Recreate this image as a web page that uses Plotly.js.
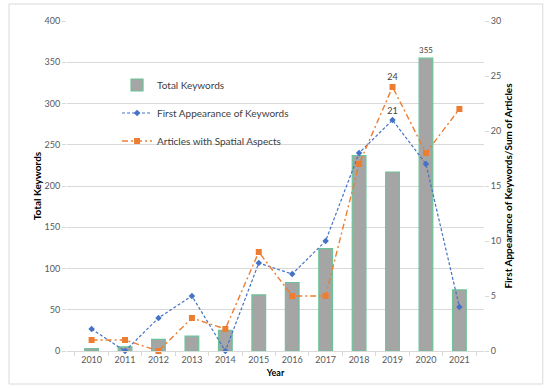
<!DOCTYPE html>
<html>
<head>
<meta charset="utf-8">
<script src="https://cdn.plot.ly/plotly-3.0.1.min.js"></script>
<style>html,body{margin:0;padding:0;background:#fff;}#chart{width:550px;height:388px;}</style>
</head>
<body>
<div id="chart"></div>
<script>
const years = ["2010","2011","2012","2013","2014","2015","2016","2017","2018","2019","2020","2021"];
const totalKeywords = [3, 5, 14, 18, 25, 68, 83, 124, 237, 217, 355, 74];
const firstAppearance = [2, 0, 3, 5, 0, 8, 7, 10, 18, 21, 17, 4];
const spatialArticles = [1, 1, 0, 3, 2, 9, 5, 5, 17, 24, 18, 22];

function peakLabels(arr) {
  const m = Math.max(...arr);
  return arr.map(v => v === m ? String(v) : "");
}

const FONT = "Lato, 'Open Sans', sans-serif";

const traces = [
  {
    type: "bar", x: years, y: totalKeywords, name: "Total Keywords",
    marker: {color: "#A5A5A5", line: {color: "#6CC49A", width: 1.2}},
    text: peakLabels(totalKeywords), textposition: "outside", cliponaxis: false,
    textfont: {size: 9, color: "#404040"},
    legendgroup: "a", hoverinfo: "x+y"
  },
  {
    type: "scatter", mode: "lines+markers+text", x: years, y: firstAppearance, yaxis: "y2",
    name: "First Appearance of Keywords",
    line: {color: "#4472C4", width: 1.2, dash: "3px,2px"},
    marker: {symbol: "diamond", size: 5, color: "#4472C4"},
    text: peakLabels(firstAppearance), textposition: "top center",
    textfont: {size: 9, color: "#404040"}, cliponaxis: false,
    legendgroup: "b"
  },
  {
    type: "scatter", mode: "lines+markers+text", x: years, y: spatialArticles, yaxis: "y2",
    name: "Articles with Spatial Aspects",
    line: {color: "#ED7D31", width: 1.4, dash: "6px,3px,2px,3px"},
    marker: {symbol: "square", size: 6, color: "#ED7D31"},
    text: peakLabels(spatialArticles), textposition: "top center",
    textfont: {size: 9, color: "#404040"}, cliponaxis: false,
    legendgroup: "c"
  }
];

const layout = {
  width: 550, height: 388,
  margin: {l: 67, r: 66, t: 21, b: 37},
  paper_bgcolor: "#fff", plot_bgcolor: "#fff",
  font: {family: FONT, size: 9, color: "#595959"},
  bargap: 0.59,
  showlegend: true,
  legend: {x: 0.12, y: 0.85, xanchor: "left", yanchor: "top", bgcolor: "rgba(0,0,0,0)",
           font: {size: 10, color: "#404040"}, tracegroupgap: 9, itemwidth: 30},
  xaxis: {
    type: "category", tickson: "boundaries", ticks: "outside", ticklen: 4, tickcolor: "#D9D9D9",
    showline: true, linecolor: "#D9D9D9", showgrid: false, tickfont: {size: 9, color: "#595959"},
    title: {text: "<b>Year</b>", font: {size: 9, color: "#000"}, standoff: 5}
  },
  yaxis: {
    range: [0, 400], dtick: 50, showgrid: true, gridcolor: "#D9D9D9", gridwidth: 1,
    zeroline: false, showline: false, ticks: "outside", ticklen: 4, tickcolor: "#D9D9D9",
    tickfont: {size: 9, color: "#595959"},
    title: {text: "<b>Total Keywords</b>", font: {size: 10, color: "#000"}, standoff: 1}
  },
  yaxis2: {
    overlaying: "y", side: "right", range: [0, 30], dtick: 5, showgrid: false, zeroline: false,
    showline: false, ticks: "outside", ticklen: 4, tickcolor: "#D9D9D9",
    tickfont: {size: 9, color: "#595959"},
    title: {text: "<b>First Appearance of Keywords/Sum of Articles</b>", font: {size: 10, color: "#000"}, standoff: 4}
  },
  shapes: [{
    type: "rect", xref: "paper", yref: "paper", x0: -0.139, x1: 1.141, y0: -0.1, y1: 1.0515,
    line: {color: "#D9D9D9", width: 1}, fillcolor: "rgba(0,0,0,0)", layer: "below"
  }]
};

Plotly.newPlot("chart", traces, layout, {displayModeBar: false, staticPlot: true});
</script>
</body>
</html>
